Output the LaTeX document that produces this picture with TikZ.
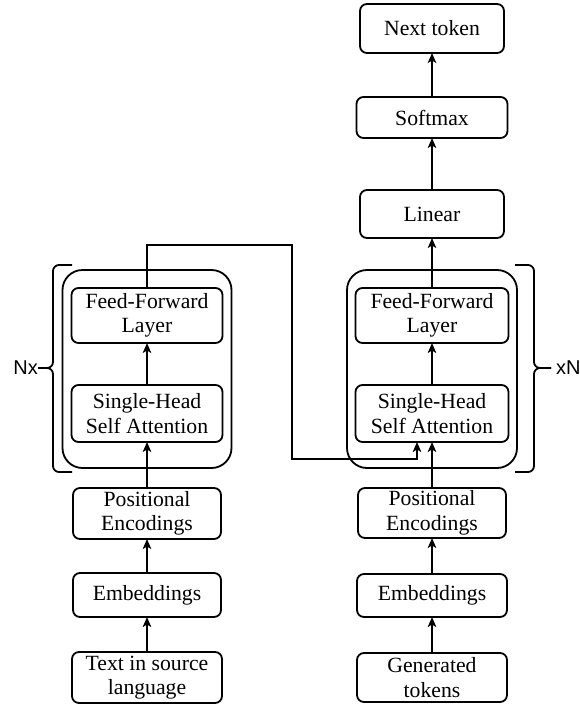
\documentclass[tikz,border=0pt]{standalone}
\usepackage{fontspec}
\setmainfont{Liberation Serif}
\newfontfamily\boxserif{Liberation Serif}
\newfontfamily\labelsans{Liberation Sans}
\usetikzlibrary{arrows.meta}
\begin{document}
\begin{tikzpicture}[x=1pt,y=-1pt,
  box/.style={draw, line width=1.8pt, rounded corners=7pt, inner sep=0pt, outer sep=0pt,
    align=center, font=\boxserif\fontsize{21.7}{24.5}\selectfont},
  block/.style={draw, line width=1.8pt, rounded corners=20pt, inner sep=0pt, outer sep=0pt},
  flow/.style={line width=1.8pt, -{Stealth[length=10pt,width=8.5pt,inset=2.5pt]}},
  brace/.style={line width=1.8pt, rounded corners=6pt},
  reps/.style={font=\labelsans\fontsize{20}{22}\selectfont, inner sep=0pt}]
\useasboundingbox (0,0) rectangle (580,704);

% encoder stack (left)
\node[block, minimum width=169pt, minimum height=198pt] (lblock) at (147,369) {};
\node[box, minimum width=150pt, minimum height=51pt] (lsrc) at (147,677.5) {Text in source\\language};
\node[box, minimum width=148pt, minimum height=44pt] (lemb) at (147,595) {Embeddings};
\node[box, minimum width=148pt, minimum height=51pt] (lpe) at (147,513.5) {Positional\\Encodings};
\node[box, minimum width=151pt, minimum height=57pt] (lsa) at (147,413.5) {Single-Head\\Self Attention};
\node[box, minimum width=151pt, minimum height=55pt] (lff) at (147,315.5) {Feed-Forward\\Layer};

% decoder stack (right)
\node[block, minimum width=170pt, minimum height=198pt] (rblock) at (432,369) {};
\node[box, minimum width=150pt, minimum height=49pt] (rsrc) at (432,677.5) {Generated\\tokens};
\node[box, minimum width=150pt, minimum height=43pt] (remb) at (432,595.5) {Embeddings};
\node[box, minimum width=148pt, minimum height=50pt] (rpe) at (432,513) {Positional\\Encodings};
\node[box, minimum width=153pt, minimum height=57pt] (rsa) at (432,413.5) {Single-Head\\Self Attention};
\node[box, minimum width=153pt, minimum height=55pt] (rff) at (432,315.5) {Feed-Forward\\Layer};
\node[box, minimum width=144pt, minimum height=48pt] (rlin) at (432,214) {Linear};
\node[box, minimum width=151pt, minimum height=41pt] (rsoft) at (432,117.5) {Softmax};
\node[box, minimum width=144pt, minimum height=49pt] (rnext) at (432,28.5) {Next token};

% main data flow
\draw[flow] (lsrc) -- (lemb);
\draw[flow] (lemb) -- (lpe);
\draw[flow] (lpe) -- (lsa);
\draw[flow] (lsa) -- (lff);

\draw[flow] (rsrc) -- (remb);
\draw[flow] (remb) -- (rpe);
\draw[flow] (rpe.north) -- (rsa.south);
\draw[flow] (rsa) -- (rff);
\draw[flow] (rff.north) -- (rlin.south);
\draw[flow] (rlin) -- (rsoft);
\draw[flow] (rsoft) -- (rnext);

% encoder output into the decoder attention
\coordinate (hopA) at (292,245);
\coordinate (hopB) at (292,459);
\draw[flow] (lff.north) |- (hopA) -- (hopB) -| ([xshift=-15pt]rsa.south);

% repetition braces
\coordinate (ltip) at (38,368);
\coordinate (rtip) at (551,368);
\draw[brace] (72,265) -- (53,265) -- (53,368) -- (ltip);
\draw[brace] (ltip) -- (53,368) -- (53,472) -- (72,472);
\draw[brace] (515,265) -- (534,265) -- (534,368) -- (rtip);
\draw[brace] (rtip) -- (534,368) -- (534,472) -- (515,472);
\node[reps, anchor=east] (nx) at (ltip) {Nx};
\node[reps, anchor=west] (xn) at ([xshift=5pt]rtip) {xN};
\end{tikzpicture}
\end{document}
